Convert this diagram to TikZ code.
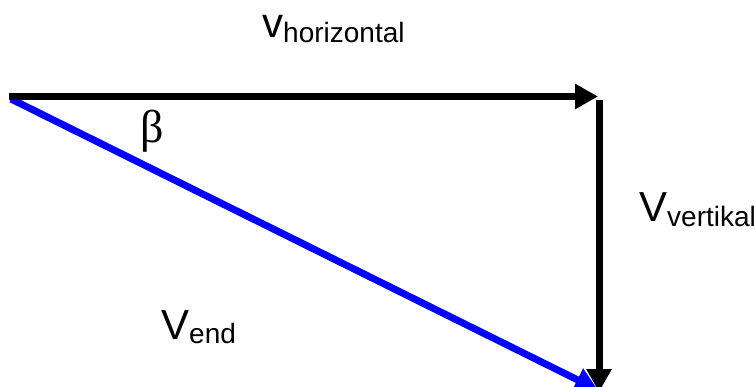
\documentclass[tikz,border=0pt]{standalone}
\usepackage{fontspec}
\setmainfont{Liberation Sans}
\newfontfamily\greekfont{Liberation Serif}
\usetikzlibrary{arrows.meta}
\tikzset{
  vec/.style={line width=7pt, -{Triangle[length=23pt,width=24pt]}},
  lbl/.style={inner sep=0pt, anchor=base west},
}
\newcommand{\mainsz}{\fontsize{42}{42}\selectfont}
\newcommand{\subsz}{\fontsize{28}{28}\selectfont}
\begin{document}
\begin{tikzpicture}[x=1pt,y=-1pt]
\useasboundingbox (0,0) rectangle (755,387);
\coordinate (start) at (9,96.5);
\coordinate (bstart) at (11,99);
\coordinate (corner) at (598,96.5);
\coordinate (vtop) at (599,100);
\coordinate (vend) at (599,392);
\coordinate (bend) at (598,390);
\draw[vec, blue] (bstart) -- (bend);
\draw[vec, black] (start) -- (corner);
\draw[vec, black] (vtop) -- (vend);
\node[lbl] (hl) at (262,38) {\mainsz v\raisebox{-5pt}{\subsz horizontal}};
\node[lbl] (vl) at (639,222) {\mainsz V\raisebox{-5pt}{\subsz vertikal}};
\node[lbl] (el) at (161,340) {\mainsz V\raisebox{-4pt}{\subsz end}};
\node[lbl] (beta) at (140,143) {\greekfont\fontsize{46}{46}\selectfont β};
\end{tikzpicture}
\end{document}
